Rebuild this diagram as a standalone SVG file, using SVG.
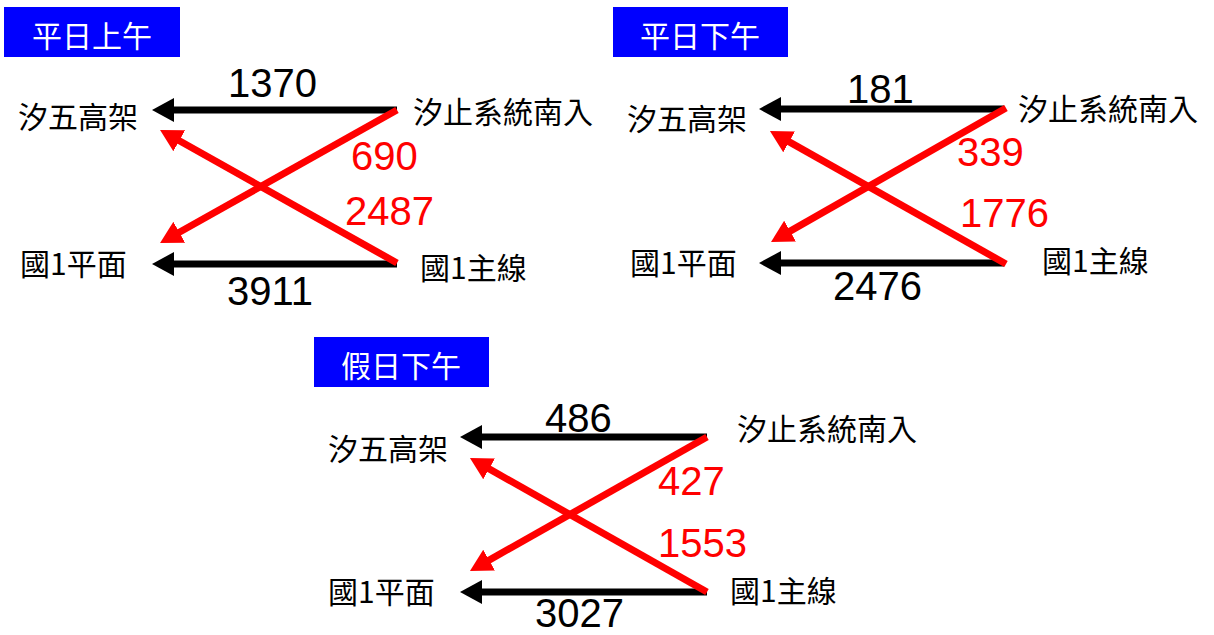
<svg xmlns="http://www.w3.org/2000/svg" width="1214" height="635" viewBox="0 0 1214 635">
<style>
.title{fill:#0000FF;}
.tt{font-family:"Noto Sans CJK TC","Noto Sans CJK SC",sans-serif;font-size:30px;fill:#FFFFFF;text-anchor:middle;dominant-baseline:central;}
.lbl{font-family:"Noto Sans CJK TC","Noto Sans CJK SC",sans-serif;font-size:30px;fill:#000000;dominant-baseline:central;}
.num{font-family:"Liberation Sans",Arial,sans-serif;font-size:40px;}
.nb{fill:#000000;}
.nr{fill:#FF0000;}
.lb{stroke:#000000;stroke-width:7;fill:none;marker-end:url(#ab);}
.lr{stroke:#FF0000;stroke-width:7;fill:none;marker-end:url(#ar);}
</style>
<defs>
<marker id="ab" markerUnits="userSpaceOnUse" markerWidth="22" markerHeight="24" viewBox="0 0 22 24" refX="6" refY="12" orient="auto"><path d="M0,0 L22,12 L0,24 Z" fill="#000000"/></marker>
<marker id="ar" markerUnits="userSpaceOnUse" markerWidth="22" markerHeight="24" viewBox="0 0 22 24" refX="6" refY="12" orient="auto"><path d="M0,0 L22,12 L0,24 Z" fill="#FF0000"/></marker>
</defs>

<!-- Panel 1 -->
<g id="title1"><rect class="title" x="4" y="7" width="176" height="50"/><text class="tt" x="92" y="34">平日上午</text></g>
<g id="p1-xiwu"><text class="lbl" x="18" y="115">汐五高架</text></g>
<g id="p1-xizhi"><text class="lbl" x="413" y="110">汐止系統南入</text></g>
<g id="p1-guo1pm"><text class="lbl" x="20" y="262">國1平面</text></g>
<g id="p1-guo1main"><text class="lbl" x="420" y="266">國1主線</text></g>

<!-- Panel 2 -->
<g id="title2"><rect class="title" x="613" y="7" width="175" height="50"/><text class="tt" x="700" y="34">平日下午</text></g>
<g id="p2-xiwu"><text class="lbl" x="627" y="117">汐五高架</text></g>
<g id="p2-xizhi"><text class="lbl" x="1018" y="107">汐止系統南入</text></g>
<g id="p2-guo1pm"><text class="lbl" x="630" y="261">國1平面</text></g>
<g id="p2-guo1main"><text class="lbl" x="1042" y="259">國1主線</text></g>

<!-- Panel 3 -->
<g id="title3"><rect class="title" x="314" y="337" width="175" height="50"/><text class="tt" x="401" y="364">假日下午</text></g>
<g id="p3-xiwu"><text class="lbl" x="328" y="447">汐五高架</text></g>
<g id="p3-xizhi"><text class="lbl" x="737" y="427">汐止系統南入</text></g>
<g id="p3-guo1pm"><text class="lbl" x="328" y="590">國1平面</text></g>
<g id="p3-guo1main"><text class="lbl" x="730" y="589">國1主線</text></g>

<g id="connectors">
<!-- panel 1 -->
<line class="lb" x1="397" y1="110" x2="168" y2="110"/>
<line class="lb" x1="397" y1="264" x2="168" y2="264"/>
<line class="lr" x1="397" y1="110" x2="174" y2="235.2"/>
<line class="lr" x1="397" y1="263" x2="174" y2="137.8"/>
<text class="num nb" x="228" y="97">1370</text>
<text class="num nr" x="351" y="170">690</text>
<text class="num nr" x="345" y="225">2487</text>
<text class="num nb" x="227" y="305">3911</text>
<!-- panel 2 -->
<line class="lb" x1="1004" y1="109" x2="775" y2="109"/>
<line class="lb" x1="1004" y1="263" x2="775" y2="263"/>
<line class="lr" x1="1006" y1="108" x2="784.9" y2="234.1"/>
<line class="lr" x1="1006" y1="264" x2="783.9" y2="138.9"/>
<text class="num nb" x="847" y="103">181</text>
<text class="num nr" x="957" y="166">339</text>
<text class="num nr" x="960" y="227">1776</text>
<text class="num nb" x="833" y="300">2476</text>
<!-- panel 3 -->
<line class="lb" x1="707" y1="437" x2="476" y2="437"/>
<line class="lb" x1="707" y1="592" x2="476" y2="592"/>
<line class="lr" x1="707" y1="437" x2="483.9" y2="563.1"/>
<line class="lr" x1="707" y1="592" x2="483.9" y2="465.9"/>
<text class="num nb" x="545" y="432">486</text>
<text class="num nr" x="658" y="495">427</text>
<text class="num nr" x="658" y="557">1553</text>
<text class="num nb" x="535" y="627">3027</text>
</g>
</svg>
